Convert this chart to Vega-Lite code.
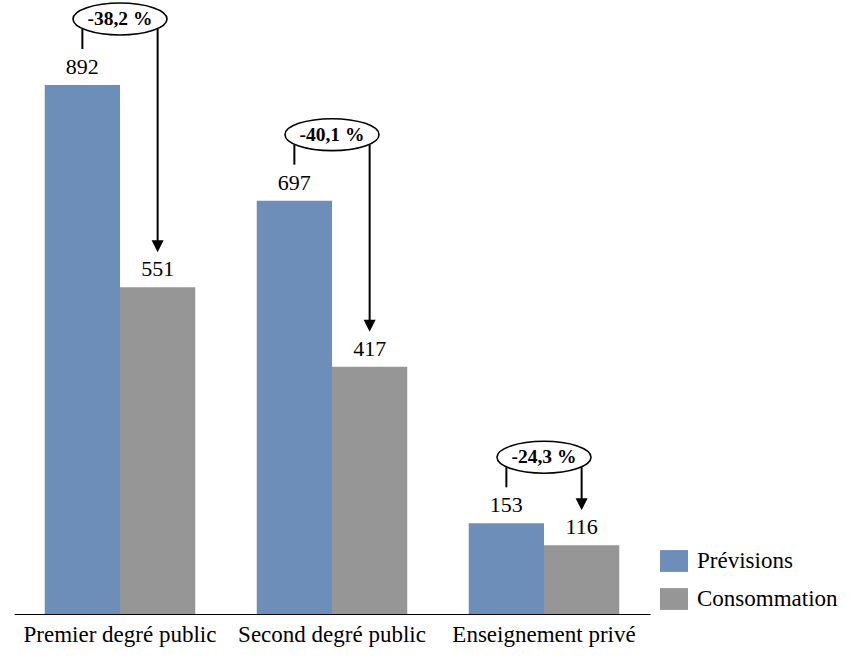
{
  "$schema": "https://vega.github.io/schema/vega-lite/v6.json",
  "width": 636,
  "height": 604,
  "autosize": {"type": "none"},
  "padding": {"left": 14, "top": 10, "right": 203, "bottom": 47},
  "background": "white",
  "config": {
    "view": {"stroke": null},
    "font": "Liberation Serif, Times New Roman, serif",
    "text": {"font": "Liberation Serif, Times New Roman, serif"}
  },
  "datasets": {
    "bars": [
      {"cat": "Premier degré public", "serie": "Prévisions", "val": 892},
      {"cat": "Premier degré public", "serie": "Consommation", "val": 551},
      {"cat": "Second degré public", "serie": "Prévisions", "val": 697},
      {"cat": "Second degré public", "serie": "Consommation", "val": 417},
      {"cat": "Enseignement privé", "serie": "Prévisions", "val": 153},
      {"cat": "Enseignement privé", "serie": "Consommation", "val": 116}
    ],
    "ann": [
      {"cat": "Premier degré public", "prev": 892, "conso": 551, "pct": "-38,2 %"},
      {"cat": "Second degré public", "prev": 697, "conso": 417, "pct": "-40,1 %"},
      {"cat": "Enseignement privé", "prev": 153, "conso": 116, "pct": "-24,3 %"}
    ]
  },
  "layer": [
    {
      "data": {"name": "bars"},
      "mark": {"type": "bar"},
      "encoding": {
        "x": {
          "field": "cat", "type": "nominal", "sort": null,
          "scale": {"paddingInner": 0.29, "paddingOuter": 0.145},
          "axis": {"title": null, "domainColor": "black", "domainWidth": 1, "ticks": false,
                   "labelAngle": 0, "labelFontSize": 23, "labelColor": "black", "labelLimit": 0, "labelOverlap": false,
                   "labelPadding": 9, "labelFont": "Liberation Serif, Times New Roman, serif"}
        },
        "xOffset": {"field": "serie", "type": "nominal", "sort": ["Prévisions", "Consommation"],
                    "scale": {"domain": ["Prévisions", "Consommation"], "paddingInner": 0, "paddingOuter": 0}},
        "y": {"field": "val", "type": "quantitative", "scale": {"domain": [0, 1018.5], "nice": false, "zero": true}, "axis": null},
        "color": {
          "field": "serie", "type": "nominal",
          "scale": {"domain": ["Prévisions", "Consommation"], "range": ["#6e8eba", "#969696"]},
          "legend": {"title": null, "orient": "none", "legendX": 646, "legendY": 537,
                     "symbolType": "M -1 -0.78 H 1 V 0.78 H -1 Z", "symbolSize": 784,
                     "symbolStrokeWidth": 0, "symbolOpacity": 1,
                     "labelFontSize": 23, "labelFont": "Liberation Serif, Times New Roman, serif", "labelColor": "black", "labelLimit": 0,
                     "rowPadding": 12, "labelOffset": 9}
        }
      }
    },
    {
      "data": {"name": "bars"},
      "mark": {"type": "text", "baseline": "alphabetic", "dy": -11, "fontSize": 22, "color": "black"},
      "encoding": {
        "x": {"field": "cat", "type": "nominal", "sort": null},
        "xOffset": {"field": "serie", "type": "nominal"},
        "y": {"field": "val", "type": "quantitative"},
        "text": {"field": "val", "type": "quantitative"}
      }
    },
    {
      "data": {"name": "ann"},
      "mark": {"type": "rule", "color": "black", "strokeWidth": 2, "yOffset": -56, "y2Offset": -36},
      "encoding": {
        "x": {"field": "cat", "type": "nominal", "sort": null},
        "xOffset": {"datum": "Prévisions"},
        "y": {"field": "prev", "type": "quantitative"},
        "y2": {"field": "prev"}
      }
    },
    {
      "data": {"name": "ann"},
      "mark": {"type": "rule", "color": "black", "strokeWidth": 2, "yOffset": -56, "y2Offset": -40},
      "encoding": {
        "x": {"field": "cat", "type": "nominal", "sort": null},
        "xOffset": {"datum": "Consommation"},
        "y": {"field": "prev", "type": "quantitative"},
        "y2": {"field": "conso"}
      }
    },
    {
      "data": {"name": "ann"},
      "mark": {"type": "point", "shape": "M -1 -1 L 1 -1 L 0 1 Z", "size": 144, "filled": true, "color": "black", "opacity": 1, "yOffset": -41},
      "encoding": {
        "x": {"field": "cat", "type": "nominal", "sort": null},
        "xOffset": {"datum": "Consommation"},
        "y": {"field": "conso", "type": "quantitative"}
      }
    },
    {
      "data": {"name": "ann"},
      "mark": {"type": "point", "shape": "M -1 0 A 1 0.34 0 1 1 1 0 A 1 0.34 0 1 1 -1 0 Z", "size": 8836, "filled": true, "fill": "white", "stroke": "black", "strokeWidth": 1.6, "opacity": 1, "yOffset": -66},
      "encoding": {
        "x": {"field": "cat", "type": "nominal", "sort": null},
        "y": {"field": "prev", "type": "quantitative"}
      }
    },
    {
      "data": {"name": "ann"},
      "mark": {"type": "text", "baseline": "middle", "fontSize": 19.5, "fontWeight": "bold", "color": "black", "yOffset": -66},
      "encoding": {
        "x": {"field": "cat", "type": "nominal", "sort": null},
        "y": {"field": "prev", "type": "quantitative"},
        "text": {"field": "pct", "type": "nominal"}
      }
    }
  ]
}
